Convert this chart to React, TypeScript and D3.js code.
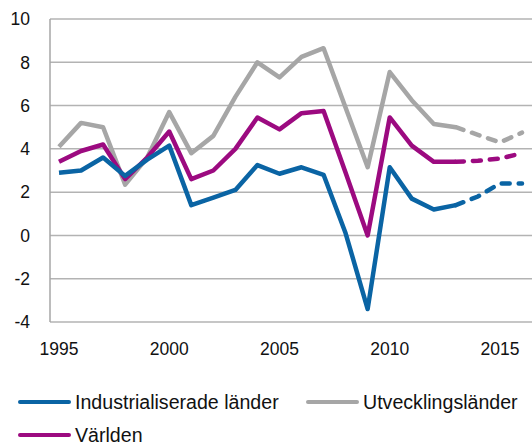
import React from "react";
import * as d3 from "d3";

const years = [1995,1996,1997,1998,1999,2000,2001,2002,2003,2004,2005,2006,2007,2008,2009,2010,2011,2012,2013,2014,2015,2016];
const industrial = [2.9,3.0,3.6,2.75,3.5,4.15,1.4,1.75,2.1,3.25,2.85,3.15,2.8,0.1,-3.4,3.15,1.7,1.2,1.4,1.8,2.4,2.4];
const developing = [4.1,5.2,5.0,2.35,3.6,5.7,3.8,4.6,6.4,8.0,7.3,8.25,8.65,5.9,3.15,7.55,6.25,5.15,5.0,4.65,4.3,4.75];
const world = [3.4,3.9,4.2,2.6,3.6,4.8,2.6,3.0,4.0,5.45,4.9,5.65,5.75,2.9,0.0,5.45,4.15,3.4,3.4,3.45,3.55,3.8];
const forecastFrom = 2013;
const yTicks = [-4,-2,0,2,4,6,8,10];
const xTicks = [1995,2000,2005,2010,2015];
const seriesNames = ["Industrialiserade länder","Utvecklingsländer","Världen"];
const colors = ["#0a64a4","#a6a6a6","#9c0a80"];

export default function App() {
  const W = 532, H = 446;
  const x = d3.scaleLinear().domain([1995, 2016]).range([59, 522]);
  const y = d3.scaleLinear().domain([-4, 10]).range([322, 19]);
  const font = "'Liberation Sans', Arial, sans-serif";
  const series = [industrial, developing, world];
  const order = [1, 2, 0];
  const line = d3.line<[number, number]>().x(d => x(d[0])).y(d => y(d[1]));
  return (
    <svg width={W} height={H} style={{ position: "absolute", left: 0, top: 0 }} fontFamily={font}>
      {yTicks.map(t => (
        <g key={t}>
          <line x1={50} x2={W} y1={y(t)} y2={y(t)} stroke="#b3b3b3" strokeWidth={1.5} />
          <text x={30} y={y(t)} dy="0.36em" textAnchor="end" fontSize={17.5} fill="#111">{t}</text>
        </g>
      ))}
      <line x1={50} x2={50} y1={y(10)} y2={y(-4)} stroke="#a6a6a6" strokeWidth={1.5} />
      {xTicks.map(t => (
        <text key={t} x={x(t)} y={355} textAnchor="middle" fontSize={17.5} fill="#111">{t}</text>
      ))}
      {order.map(i => {
        const pts: [number, number][] = years.map((yr, k) => [yr, series[i][k]]);
        const solid = pts.filter(p => p[0] <= forecastFrom);
        const dashed = pts.filter(p => p[0] >= forecastFrom);
        return (
          <g key={i}>
            <path d={line(solid) || ""} fill="none" stroke={colors[i]} strokeWidth={4.5} strokeLinejoin="round" />
            <path d={line(dashed) || ""} fill="none" stroke={colors[i]} strokeWidth={4.5} strokeLinecap="round" strokeDasharray="8 9" />
          </g>
        );
      })}
      {[
        { i: 0, lx: 18, ty: 402 },
        { i: 1, lx: 306, ty: 402 },
        { i: 2, lx: 18, ty: 435 },
      ].map(({ i, lx, ty }) => (
        <g key={i}>
          <line x1={lx + 2} x2={lx + 51} y1={ty} y2={ty} stroke={colors[i]} strokeWidth={4} strokeLinecap="round" />
          <text x={lx + 57} y={ty} dy="0.36em" fontSize={19.6} fill="#111">{seriesNames[i]}</text>
        </g>
      ))}
    </svg>
  );
}
